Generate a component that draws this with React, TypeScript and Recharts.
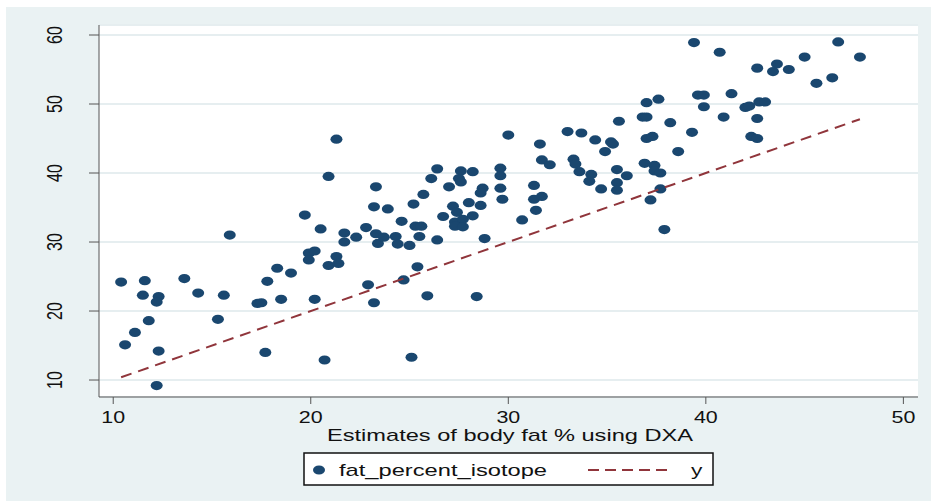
import { ScatterChart, Scatter, XAxis, YAxis, CartesianGrid } from "recharts"

// DXA estimates (x) and isotope estimates (y)
const dxaValues = [
  20.9, 19.7, 20.5, 21.7, 21.7, 15.9, 19.9, 20.2, 19.9, 21.3, 20.9, 21.4, 18.3, 19.0, 10.4, 11.6, 13.6, 17.8,
  11.5, 12.3, 12.2, 14.3, 15.6, 17.3, 17.5, 18.5, 20.2, 11.8, 15.3, 11.1, 10.6, 12.3, 17.7, 20.7, 12.2,
  21.3, 30.0, 31.6, 31.7, 32.1, 26.4, 27.6, 28.2, 26.1, 27.5, 27.6, 29.6, 29.6, 23.3, 27.0, 28.7, 28.6, 29.6,
  31.3, 25.7, 29.7, 31.3, 31.7, 23.2, 23.9, 25.2, 27.2, 28.0, 28.6, 31.4, 27.4, 26.7, 28.2, 24.6, 30.7, 27.3,
  27.7, 22.8, 25.3, 25.6, 27.3, 27.7, 22.3, 23.3, 23.4, 23.7, 24.3, 24.4, 25.0, 25.5, 26.4, 28.8, 25.4, 22.9,
  24.7, 23.2, 25.9, 28.4, 25.1,
  39.4, 40.7, 39.6, 39.9, 39.9, 41.3, 40.9, 42.0, 42.2, 37.0, 37.6, 36.8, 37.0, 35.6, 38.2, 37.0, 37.3, 39.3,
  33.0, 33.7, 34.4, 35.2, 35.3, 34.9, 38.6, 33.3, 33.4, 33.6, 34.2, 34.1, 35.5, 36.0, 36.9, 37.4, 37.4, 37.7,
  34.7, 35.5, 35.5, 37.7, 37.2, 37.9,
  46.7, 47.8, 45.0, 43.6, 43.4, 44.2, 42.6, 45.6, 46.4, 42.7, 43.0, 42.6, 42.3, 42.6,
]

const isotopeValues = [
  39.5, 33.9, 31.9, 31.3, 30.0, 31.0, 28.4, 28.7, 27.4, 27.9, 26.6, 26.9, 26.2, 25.5, 24.2, 24.4, 24.7, 24.3,
  22.3, 22.1, 21.3, 22.6, 22.3, 21.1, 21.2, 21.7, 21.7, 18.6, 18.8, 16.9, 15.1, 14.2, 14.0, 12.9, 9.2,
  44.9, 45.5, 44.2, 41.9, 41.2, 40.6, 40.3, 40.2, 39.2, 39.2, 38.7, 40.7, 39.6, 38.0, 38.0, 37.8, 37.1, 37.8,
  38.2, 36.9, 36.2, 36.2, 36.6, 35.1, 34.8, 35.5, 35.2, 35.7, 35.3, 34.6, 34.3, 33.7, 33.8, 33.0, 33.2, 32.9,
  33.3, 32.1, 32.3, 32.3, 32.3, 32.2, 30.7, 31.2, 29.8, 30.7, 30.8, 29.7, 29.5, 30.8, 30.3, 30.5, 26.4, 23.8,
  24.5, 21.2, 22.2, 22.1, 13.3,
  58.9, 57.5, 51.3, 51.3, 49.6, 51.5, 48.1, 49.5, 49.7, 50.2, 50.7, 48.1, 48.1, 47.5, 47.3, 45.0, 45.3, 45.9,
  46.0, 45.8, 44.8, 44.5, 44.2, 43.1, 43.1, 42.0, 41.3, 40.2, 39.8, 38.8, 40.5, 39.6, 41.4, 41.1, 40.3, 40.0,
  37.7, 38.6, 37.5, 37.7, 36.1, 31.8,
  59.0, 56.8, 56.8, 55.8, 54.7, 55.0, 55.2, 53.0, 53.8, 50.3, 50.3, 47.9, 45.3, 45.0,
]

const xTicks = [10, 20, 30, 40, 50]
const yTicks = [10, 20, 30, 40, 50, 60]

const points = dxaValues.map((x, i) => ({ x, y: isotopeValues[i] }))
const xMin = Math.min(...dxaValues)
const xMax = Math.max(...dxaValues)
// line of identity y = x over the range of the data
const identityLine = [
  { x: xMin, y: xMin },
  { x: xMax, y: xMax },
]

const navy = "#1a476f"
const maroon = "#90353b"
const font = "'Liberation Sans', Arial, sans-serif"

const XTick = (props: any) => {
  const { x, y, payload } = props
  return (
    <text
      transform={`translate(${x},${y + 17}) scale(1.34,1)`}
      textAnchor="middle"
      fontSize={16}
      fontFamily={font}
      fill="#111"
    >
      {payload.value}
    </text>
  )
}

const YTick = (props: any) => {
  const { x, y, payload } = props
  return (
    <text
      transform={`translate(${x - 25},${y}) scale(1.34,1) rotate(-90)`}
      textAnchor="middle"
      fontSize={16}
      fontFamily={font}
      fill="#111"
    >
      {payload.value}
    </text>
  )
}

const Dot = (props: any) => <ellipse cx={props.cx} cy={props.cy} rx={6} ry={4.6} fill={navy} />

export default function App() {
  return (
    <div style={{ position: "absolute", left: 0, top: 0, width: 931, height: 502, background: "#fff" }}>
      <div style={{ position: "absolute", left: 6, top: 7, width: 925, height: 494, background: "#eaf2f3" }} />
      <div style={{ position: "absolute", left: 0, top: 0 }}>
        <ScatterChart width={931} height={502} margin={{ top: 25, right: 13, left: 39, bottom: 65 }}>
          <CartesianGrid vertical={false} fill="#fff" stroke="#e6eef0" strokeWidth={2} />
          <XAxis
            type="number"
            dataKey="x"
            domain={[9.28, 50.74]}
            ticks={xTicks}
            height={40}
            tickSize={7}
            tick={<XTick />}
            stroke="#555"
            axisLine={{ stroke: "#555" }}
          />
          <YAxis
            type="number"
            dataKey="y"
            domain={[7.54, 61.45]}
            ticks={yTicks}
            width={60}
            tickSize={10}
            tick={<YTick />}
            stroke="#555"
            axisLine={{ stroke: "#555" }}
          />
          <Scatter name="fat_percent_isotope" data={points} shape={<Dot />} isAnimationActive={false} />
          <Scatter
            name="y"
            data={identityLine}
            line={{ stroke: maroon, strokeWidth: 2, strokeDasharray: "11 7" }}
            shape={() => <g />}
            isAnimationActive={false}
          />
        </ScatterChart>
      </div>
      <svg width={931} height={502} style={{ position: "absolute", left: 0, top: 0, pointerEvents: "none" }}>
        <text
          x={327}
          y={441}
          textLength={366}
          lengthAdjust="spacingAndGlyphs"
          fontSize={17}
          fontFamily={font}
          fill="#111"
        >
          Estimates of body fat % using DXA
        </text>
        <rect x={304} y={453} width={409} height={32} fill="#fff" stroke="#111" strokeWidth={1.5} />
        <ellipse cx={319} cy={470} rx={6} ry={4.6} fill={navy} />
        <text
          x={339}
          y={476}
          textLength={208}
          lengthAdjust="spacingAndGlyphs"
          fontSize={17}
          fontFamily={font}
          fill="#111"
        >
          fat_percent_isotope
        </text>
        <line x1={588} y1={470} x2={668} y2={470} stroke={maroon} strokeWidth={2} strokeDasharray="11 6" />
        <text transform="translate(691,476) scale(1.34,1)" fontSize={17} fontFamily={font} fill="#111">
          y
        </text>
      </svg>
    </div>
  )
}
